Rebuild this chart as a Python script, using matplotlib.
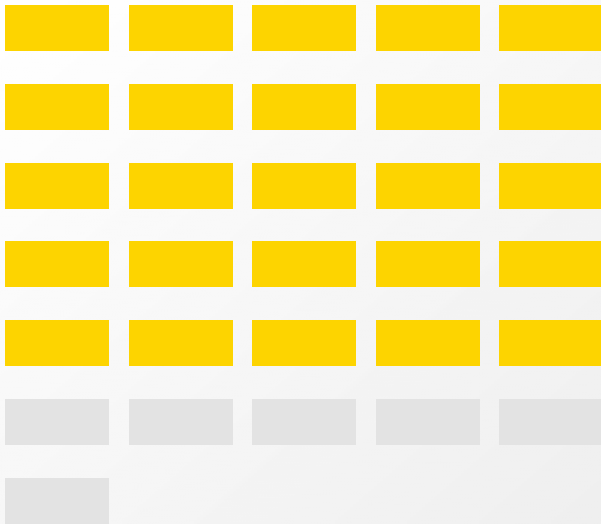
import matplotlib
matplotlib.use('Agg')
import matplotlib.pyplot as plt
from matplotlib.patches import Rectangle
import numpy as np

# waffle counts
filled = 25
empty = 6
n_cols = 5

col_yellow = '#FDD400'
col_gray = '#E3E3E3'

W, H = 601, 524
fig = plt.figure(figsize=(W / 100, H / 100), dpi=100)
ax = fig.add_axes([0, 0, 1, 1])
ax.set_xlim(0, W)
ax.set_ylim(H, 0)
ax.axis('off')

# diagonal gradient background, white -> light gray
gx, gy = np.meshgrid(np.linspace(0, 1, 200), np.linspace(0, 1, 200))
t = (gx + gy) / 2
bg = 1.0 - 0.065 * t
ax.imshow(bg, cmap='gray', vmin=0, vmax=1, extent=[0, W, H, 0], aspect='auto', zorder=0)

# grid geometry
x0, y0 = 5, 5
cell_w, cell_h = 104, 46
pitch_x, pitch_y = 123.5, 78.83

total = filled + empty
for i in range(total):
    r, c = divmod(i, n_cols)
    color = col_yellow if i < filled else col_gray
    ax.add_patch(Rectangle((x0 + c * pitch_x, y0 + r * pitch_y), cell_w, cell_h,
                           facecolor=color, edgecolor='none', zorder=1))

fig.savefig('out.png', dpi=100)
